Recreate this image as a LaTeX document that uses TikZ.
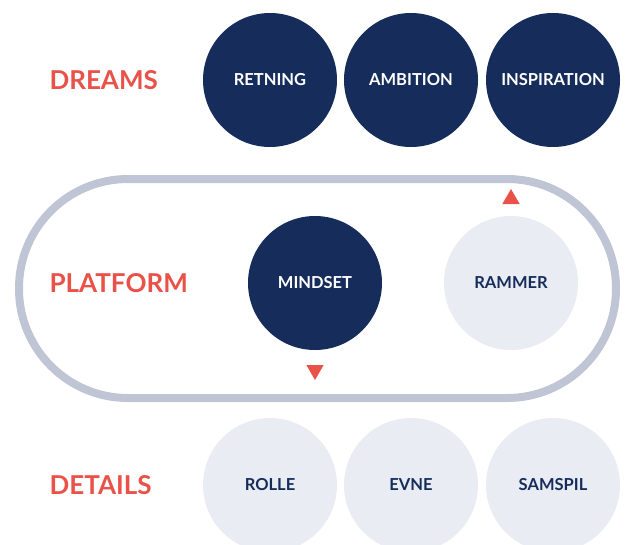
\documentclass[tikz,border=0pt]{standalone}
\usepackage{fontspec}
\setmainfont{Lato}
\usepackage{tikz}
\usetikzlibrary{shapes.geometric}
\definecolor{dnavy}{RGB}{22, 45, 92}
\definecolor{dred}{RGB}{232, 82, 72}
\definecolor{dpale}{RGB}{233, 236, 242}
\definecolor{dring}{RGB}{192, 197, 213}

\begin{document}
\begin{tikzpicture}[x=1pt, y=-1pt,
    rowlabel/.style={text=dred, font=\fontsize{26}{26}\selectfont\bfseries, anchor=west},
    dark/.style={circle, fill=dnavy, minimum size=134pt, inner sep=0pt, text=white, font=\fontsize{16.5}{17}\selectfont\bfseries},
    pale/.style={circle, fill=dpale, minimum size=134pt, inner sep=0pt, text=dnavy, font=\fontsize{16.5}{17}\selectfont\bfseries},
    tri/.style={regular polygon, regular polygon sides=3, fill=dred, minimum size=20pt, inner sep=0pt}]
\useasboundingbox (0,0) rectangle (626,544);

% Dreams row
\node[rowlabel] (dreams) at (46,80) {DREAMS};
\node[dark] (retning) at (270,80) {RETNING};
\node[dark] (ambition) at (411,80) {AMBITION};
\node[dark] (inspiration) at (553,80) {INSPIRATION};

% Platform ring
\draw[dring, line width=8pt, rounded corners=109pt] (19,179) rectangle (616,398);

% Platform row
\node[rowlabel] (platform) at (46,283) {PLATFORM};
\node[dark] (mindset) at (315,283) {MINDSET};
\node[pale] (rammer) at (511,283) {RAMMER};
\node[tri] (up) at (511,199) {};
\node[tri, shape border rotate=180] (down) at (315,370) {};

% Details row
\node[rowlabel] (details) at (46,485) {DETAILS};
\node[pale] (rolle) at (270,485) {ROLLE};
\node[pale] (evne) at (411,485) {EVNE};
\node[pale] (samspil) at (553,485) {SAMSPIL};
\end{tikzpicture}
\end{document}
